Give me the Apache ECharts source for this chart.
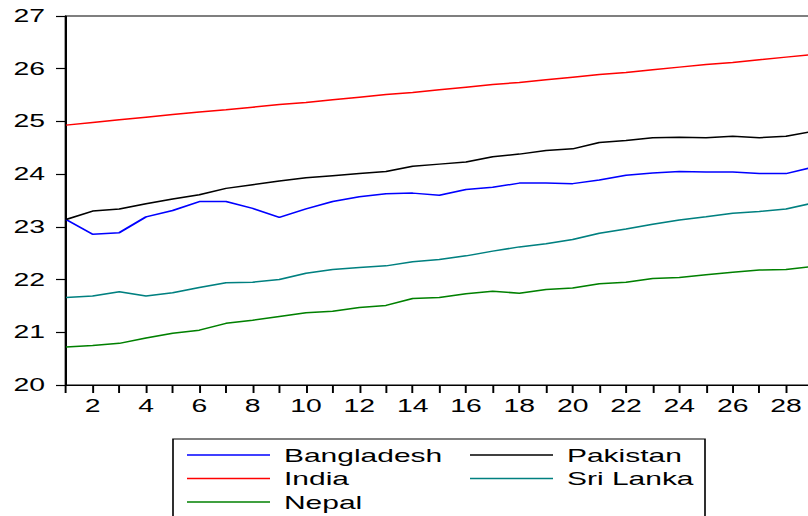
<!DOCTYPE html>
<html>
<head>
<meta charset="utf-8">
<script src="https://cdn.jsdelivr.net/npm/echarts@6/dist/echarts.min.js"></script>
<style>
  html, body { margin: 0; padding: 0; background: #fff; overflow: hidden; }
  /* the source picture is stretched sideways, so the chart is drawn narrow and widened */
  #main { width: 499px; height: 516px; transform: scaleX(1.62); transform-origin: 0 0; }
</style>
</head>
<body>
<div id="main"></div>
<script>
var periods = [1, 2, 3, 4, 5, 6, 7, 8, 9, 10, 11, 12, 13, 14, 15, 16, 17, 18, 19, 20, 21, 22, 23, 24, 25, 26, 27, 28, 29]
var yTicks = { min: 20, max: 27, step: 1 }

var bangladesh = [23.14, 22.86, 22.89, 23.19, 23.31, 23.48, 23.48, 23.35, 23.18, 23.34, 23.48, 23.57, 23.63, 23.64, 23.60, 23.71, 23.75, 23.83, 23.83, 23.82, 23.89, 23.98, 24.02, 24.05, 24.04, 24.04, 24.01, 24.01, 24.13]
var india = [24.93, 24.98, 25.03, 25.08, 25.13, 25.18, 25.22, 25.27, 25.32, 25.36, 25.41, 25.46, 25.51, 25.55, 25.60, 25.65, 25.70, 25.74, 25.79, 25.84, 25.89, 25.93, 25.98, 26.03, 26.08, 26.12, 26.17, 26.22, 26.27]
var nepal = [20.72, 20.75, 20.79, 20.89, 20.98, 21.04, 21.17, 21.23, 21.30, 21.37, 21.40, 21.47, 21.51, 21.64, 21.66, 21.73, 21.78, 21.74, 21.81, 21.84, 21.92, 21.95, 22.02, 22.04, 22.09, 22.14, 22.18, 22.19, 22.25]
var pakistan = [23.14, 23.30, 23.34, 23.44, 23.53, 23.61, 23.73, 23.80, 23.87, 23.93, 23.97, 24.01, 24.05, 24.15, 24.19, 24.23, 24.33, 24.38, 24.45, 24.48, 24.60, 24.64, 24.69, 24.70, 24.69, 24.72, 24.69, 24.72, 24.81]
var sriLanka = [21.66, 21.69, 21.77, 21.69, 21.75, 21.85, 21.94, 21.95, 22.00, 22.12, 22.19, 22.23, 22.26, 22.34, 22.38, 22.45, 22.54, 22.62, 22.68, 22.76, 22.88, 22.96, 23.05, 23.13, 23.19, 23.26, 23.29, 23.34, 23.45]

var S = 1.62
function sx(v) { return v / S }
var font = 'Liberation Sans, Arial, sans-serif'

function pairs(vals) {
  return periods.map(function (p, i) { return [p, vals[i]] })
}

function makeSeries(name, vals, color) {
  return {
    name: name,
    type: 'line',
    data: pairs(vals),
    showSymbol: false,
    symbol: 'none',
    color: color,
    lineStyle: { color: color, width: 1.5 },
    animation: false
  }
}

var legendText = {
  fontSize: 18.5,
  lineHeight: 20,
  fontFamily: font,
  color: '#000',
  padding: [0, 0, 0, sx(14) - 5]
}

var chart = echarts.init(document.getElementById('main'), null, { renderer: 'svg' })
var option = {
  backgroundColor: '#fff',
  animation: false,
  grid: {
    show: true,
    outerBoundsMode: 'none',
    containLabel: false,
    left: sx(66),
    top: 16,
    width: sx(812.7 - 66),
    height: 369,
    borderColor: '#000',
    borderWidth: 1.2,
    backgroundColor: 'transparent'
  },
  xAxis: {
    type: 'value',
    min: periods[0],
    max: periods[periods.length - 1],
    interval: 1,
    axisLine: { show: true, lineStyle: { color: '#000', width: 1.2 } },
    axisTick: { show: true, length: 8, lineStyle: { color: '#000', width: 1.2 } },
    axisLabel: {
      margin: 12,
      fontSize: 17.5,
      fontFamily: font,
      color: '#000',
      formatter: function (v) { return v % 2 === 0 ? String(v) : '' }
    },
    splitLine: { show: false }
  },
  yAxis: {
    type: 'value',
    min: yTicks.min,
    max: yTicks.max,
    interval: yTicks.step,
    axisLine: { show: true, lineStyle: { color: '#000', width: 1.2 } },
    axisTick: { show: true, length: sx(10), lineStyle: { color: '#000', width: 1.2 } },
    axisLabel: { margin: sx(21), fontSize: 17.5, fontFamily: font, color: '#000' },
    splitLine: { show: false }
  },
  legend: [
    {
      data: ['Bangladesh', 'India', 'Nepal'],
      orient: 'vertical',
      left: sx(187),
      top: 445,
      padding: 0,
      itemGap: 3.5,
      itemWidth: sx(83),
      itemHeight: 1.5,
      icon: 'rect',
      selectedMode: false,
      textStyle: legendText
    },
    {
      data: ['Pakistan', 'Sri Lanka'],
      orient: 'vertical',
      left: sx(470),
      top: 445,
      padding: 0,
      itemGap: 3.5,
      itemWidth: sx(83),
      itemHeight: 1.5,
      icon: 'rect',
      selectedMode: false,
      textStyle: legendText
    }
  ],
  graphic: [
    {
      type: 'rect',
      shape: { x: sx(173), y: 439, width: sx(532), height: 100 },
      style: { fill: 'none', stroke: '#000', lineWidth: 1 },
      silent: true
    }
  ],
  series: [
    makeSeries('Bangladesh', bangladesh, '#0000ff'),
    makeSeries('India', india, '#ff0000'),
    makeSeries('Nepal', nepal, '#008000'),
    makeSeries('Pakistan', pakistan, '#000000'),
    makeSeries('Sri Lanka', sriLanka, '#008080')
  ]
}
chart.setOption(option)
</script>
</body>
</html>
